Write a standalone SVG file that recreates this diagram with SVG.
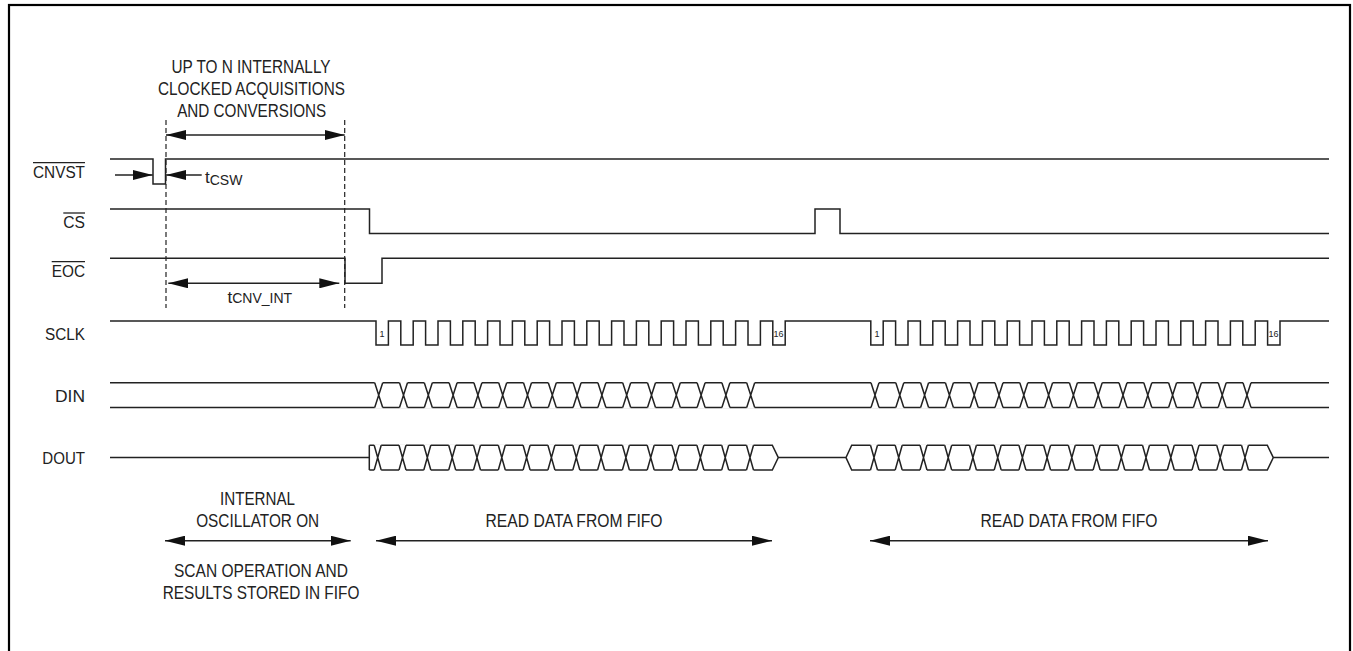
<svg xmlns="http://www.w3.org/2000/svg" xmlns:xlink="http://www.w3.org/1999/xlink" width="1353" height="651" viewBox="0 0 1353 651">
<style>
.s{fill:none;stroke:#222;stroke-width:1.5}
.d{fill:none;stroke:#222;stroke-width:1.2;stroke-dasharray:5 3}
.a{fill:none;stroke:#222;stroke-width:1.5;marker-start:url(#ah);marker-end:url(#ah)}
.a1{fill:none;stroke:#222;stroke-width:1.5;marker-end:url(#ah)}
.t{font-family:"Liberation Sans",Arial,sans-serif;font-size:18px;fill:#222;text-anchor:middle}
.ts{font-family:"Liberation Sans",Arial,sans-serif;font-size:17px;fill:#222;text-anchor:start}
.l{font-family:"Liberation Sans",Arial,sans-serif;font-size:16px;fill:#222;text-anchor:end}
.n{font-family:"Liberation Sans",Arial,sans-serif;font-size:9px;fill:#222;text-anchor:middle}
.ol{stroke:#222;stroke-width:1.3}
</style>
<defs>
<marker id="ah" viewBox="0 0 20 10" markerWidth="20" markerHeight="10" markerUnits="userSpaceOnUse" refX="20" refY="5" orient="auto-start-reverse">
<path d="M0,0 L20,5 L0,10 z" fill="#111"/>
</marker>
<g id="xc">
<rect x="-4" y="-13.5" width="8" height="27" fill="#fff"/>
<path class="s" d="M-4,-12.4 L4,12.4 M-4,12.4 L4,-12.4"/>
</g>
<g id="xo">
<rect x="-3.5" y="-13.5" width="7" height="27" fill="#fff"/>
<path class="s" d="M-3.5,-12.4 L3.5,12.4 M-3.5,12.4 L3.5,-12.4"/>
</g>
</defs>
<rect x="0" y="0" width="1353" height="651" fill="#fff"/>
<rect x="9" y="5" width="1341" height="700" fill="none" stroke="#000" stroke-width="2.2"/>

<g id="cnvst">
<text class="l" x="85" y="178.3" textLength="52" lengthAdjust="spacingAndGlyphs">CNVST</text>
<line class="ol" x1="33" y1="162.7" x2="85" y2="162.7"/>
<path class="s" d="M110,159 H153 V184 H165.5 V159 H1329"/>
</g>

<g id="cs">
<text class="l" x="85" y="227.5" textLength="21.7" lengthAdjust="spacingAndGlyphs">CS</text>
<line class="ol" x1="63.3" y1="213" x2="85" y2="213"/>
<path class="s" d="M110,209 H369.5 V233.5 H815 V209 H840 V233.5 H1329"/>
</g>

<g id="eoc">
<text class="l" x="85" y="277.3" textLength="33.3" lengthAdjust="spacingAndGlyphs">EOC</text>
<line class="ol" x1="51.7" y1="261.7" x2="85" y2="261.7"/>
<path class="s" d="M110,258.3 H345 V283.3 H382 V258.3 H1329"/>
</g>

<g id="sclk">
<text class="l" x="85" y="340" textLength="40" lengthAdjust="spacingAndGlyphs">SCLK</text>
<path class="s" d="M110,321 H376 V345 H388.4 V321 H400.8 V345 H413.2 V321 H425.6 V345 H438 V321 H450.4 V345 H462.8 V321 H475.2 V345 H487.6 V321 H500 V345 H512.4 V321 H524.8 V345 H537.2 V321 H549.6 V345 H562 V321 H574.4 V345 H586.8 V321 H599.2 V345 H611.6 V321 H624 V345 H636.4 V321 H648.8 V345 H661.2 V321 H673.6 V345 H686 V321 H698.4 V345 H710.8 V321 H723.2 V345 H735.6 V321 H748 V345 H760.4 V321 H772.8 V345 H785.2 V321 H870.8 V345 H883.2 V321 H895.6 V345 H908 V321 H920.4 V345 H932.8 V321 H945.2 V345 H957.6 V321 H970 V345 H982.4 V321 H994.8 V345 H1007.2 V321 H1019.6 V345 H1032 V321 H1044.4 V345 H1056.8 V321 H1069.2 V345 H1081.6 V321 H1094 V345 H1106.4 V321 H1118.8 V345 H1131.2 V321 H1143.6 V345 H1156 V321 H1168.4 V345 H1180.8 V321 H1193.2 V345 H1205.6 V321 H1218 V345 H1230.4 V321 H1242.8 V345 H1255.2 V321 H1267.6 V345 H1280 V321 H1329"/>
<text class="n" x="382" y="337">1</text>
<text class="n" x="778.5" y="337">16</text>
<text class="n" x="877" y="337">1</text>
<text class="n" x="1273.6" y="337">16</text>
</g>

<g id="din">
<text class="l" x="85" y="402" textLength="30" lengthAdjust="spacingAndGlyphs">DIN</text>
<path class="s" d="M110,382.8 H1329 M110,407.6 H1329"/>
<use xlink:href="#xc" x="378.7" y="395.2"/><use xlink:href="#xc" x="403.5" y="395.2"/><use xlink:href="#xc" x="428.3" y="395.2"/><use xlink:href="#xc" x="453.1" y="395.2"/>
<use xlink:href="#xc" x="477.9" y="395.2"/><use xlink:href="#xc" x="502.7" y="395.2"/><use xlink:href="#xc" x="527.5" y="395.2"/><use xlink:href="#xc" x="552.3" y="395.2"/>
<use xlink:href="#xc" x="577.1" y="395.2"/><use xlink:href="#xc" x="601.9" y="395.2"/><use xlink:href="#xc" x="626.7" y="395.2"/><use xlink:href="#xc" x="651.5" y="395.2"/>
<use xlink:href="#xc" x="676.3" y="395.2"/><use xlink:href="#xc" x="701.1" y="395.2"/><use xlink:href="#xc" x="725.9" y="395.2"/><use xlink:href="#xc" x="750.7" y="395.2"/>
<use xlink:href="#xc" x="875" y="395.2"/><use xlink:href="#xc" x="899.8" y="395.2"/><use xlink:href="#xc" x="924.6" y="395.2"/><use xlink:href="#xc" x="949.4" y="395.2"/>
<use xlink:href="#xc" x="974.2" y="395.2"/><use xlink:href="#xc" x="999" y="395.2"/><use xlink:href="#xc" x="1023.8" y="395.2"/><use xlink:href="#xc" x="1048.6" y="395.2"/>
<use xlink:href="#xc" x="1073.4" y="395.2"/><use xlink:href="#xc" x="1098.2" y="395.2"/><use xlink:href="#xc" x="1123" y="395.2"/><use xlink:href="#xc" x="1147.8" y="395.2"/>
<use xlink:href="#xc" x="1172.6" y="395.2"/><use xlink:href="#xc" x="1197.4" y="395.2"/><use xlink:href="#xc" x="1222.2" y="395.2"/><use xlink:href="#xc" x="1247" y="395.2"/>
</g>

<g id="dout">
<text class="l" x="85" y="464" textLength="42.7" lengthAdjust="spacingAndGlyphs">DOUT</text>
<path class="s" d="M110,457.6 H369.3 M369.3,445.2 V470 M369.3,445.2 H772.3 L778.3,457.6 L772.3,470 H369.3 M778.3,457.6 H846 L851.7,445.2 H1267.3 L1273.3,457.6 L1267.3,470 H851.7 L846,457.6 M1273.3,457.6 H1329"/>
<use xlink:href="#xo" x="377.7" y="457.6"/><use xlink:href="#xo" x="402.5" y="457.6"/><use xlink:href="#xo" x="427.3" y="457.6"/><use xlink:href="#xo" x="452.2" y="457.6"/>
<use xlink:href="#xo" x="477" y="457.6"/><use xlink:href="#xo" x="501.8" y="457.6"/><use xlink:href="#xo" x="526.6" y="457.6"/><use xlink:href="#xo" x="551.4" y="457.6"/>
<use xlink:href="#xo" x="576.3" y="457.6"/><use xlink:href="#xo" x="601.1" y="457.6"/><use xlink:href="#xo" x="625.9" y="457.6"/><use xlink:href="#xo" x="650.7" y="457.6"/>
<use xlink:href="#xo" x="675.5" y="457.6"/><use xlink:href="#xo" x="700.4" y="457.6"/><use xlink:href="#xo" x="725.2" y="457.6"/><use xlink:href="#xo" x="750" y="457.6"/>
<use xlink:href="#xo" x="874" y="457.6"/><use xlink:href="#xo" x="898.7" y="457.6"/><use xlink:href="#xo" x="923.5" y="457.6"/><use xlink:href="#xo" x="948.2" y="457.6"/>
<use xlink:href="#xo" x="972.9" y="457.6"/><use xlink:href="#xo" x="997.7" y="457.6"/><use xlink:href="#xo" x="1022.4" y="457.6"/><use xlink:href="#xo" x="1047.1" y="457.6"/>
<use xlink:href="#xo" x="1071.8" y="457.6"/><use xlink:href="#xo" x="1096.6" y="457.6"/><use xlink:href="#xo" x="1121.3" y="457.6"/><use xlink:href="#xo" x="1146" y="457.6"/>
<use xlink:href="#xo" x="1170.8" y="457.6"/><use xlink:href="#xo" x="1195.5" y="457.6"/><use xlink:href="#xo" x="1220.2" y="457.6"/><use xlink:href="#xo" x="1245" y="457.6"/>
</g>

<g id="connectors">
<line class="d" x1="166" y1="120" x2="166" y2="308"/>
<line class="d" x1="344.7" y1="120" x2="344.7" y2="308"/>
<line class="a" x1="166" y1="135" x2="344.7" y2="135"/>
<line class="a1" x1="115" y1="175" x2="152.7" y2="175"/>
<line class="a1" x1="201.7" y1="175" x2="166" y2="175"/>
<line class="a" x1="168.3" y1="283.3" x2="339.3" y2="283.3"/>
<line class="a" x1="165" y1="540.7" x2="350.7" y2="540.7"/>
<line class="a" x1="376" y1="540.7" x2="772" y2="540.7"/>
<line class="a" x1="870" y1="540.7" x2="1268" y2="540.7"/>
</g>

<g id="labels">
<text class="t" x="251" y="73" textLength="159" lengthAdjust="spacingAndGlyphs">UP TO N INTERNALLY</text>
<text class="t" x="251.5" y="95" textLength="187" lengthAdjust="spacingAndGlyphs">CLOCKED ACQUISITIONS</text>
<text class="t" x="251.7" y="117" textLength="149" lengthAdjust="spacingAndGlyphs">AND CONVERSIONS</text>
<text class="ts" x="205" y="183.3">t<tspan font-size="14" dy="1.5">CSW</tspan></text>
<text class="ts" x="227.5" y="302.7">t<tspan font-size="14" dy="0.6">CNV_INT</tspan></text>
<text class="t" x="257.5" y="505" textLength="75" lengthAdjust="spacingAndGlyphs">INTERNAL</text>
<text class="t" x="257.7" y="527" textLength="123" lengthAdjust="spacingAndGlyphs">OSCILLATOR ON</text>
<text class="t" x="261" y="577" textLength="174" lengthAdjust="spacingAndGlyphs">SCAN OPERATION AND</text>
<text class="t" x="261" y="598.5" textLength="196.7" lengthAdjust="spacingAndGlyphs">RESULTS STORED IN FIFO</text>
<text class="t" x="574" y="527" textLength="177" lengthAdjust="spacingAndGlyphs">READ DATA FROM FIFO</text>
<text class="t" x="1069" y="527" textLength="177" lengthAdjust="spacingAndGlyphs">READ DATA FROM FIFO</text>
</g>
</svg>
